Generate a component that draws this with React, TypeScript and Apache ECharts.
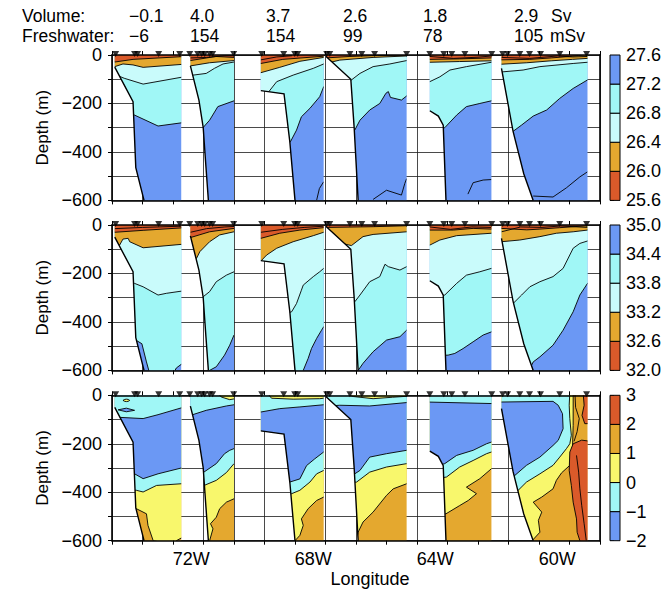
import React, { useEffect, useRef } from 'react';
import * as echarts from 'echarts';

type Pt = [number, number];
type Line = Pt[];
type Patch = { color: number; pts: Line };

const FONT = '"Liberation Sans", Arial, Helvetica, sans-serif';

// contour fill colours
const palette = ['#da5a2a', '#e4a82f', '#c9fbfb', '#a0f7f6', '#6b98f4', '#f8f76c'];
const DO = 0, OR = 1, LC = 2, CY = 3, BL = 4, YE = 5;

const lonTicks = [-72, -68, -64, -60];
const lonRange: Pt = [-74.6, -58.6];
const depthRange: Pt = [-600, 0];

const volumeSv = ['\u22120.1', '4.0', '3.7', '2.6', '1.8', '2.9'];
const freshwaterMSv = ['\u22126', '154', '154', '99', '78', '105'];

const stationLons = [
  -74.48, -73.86, -73.76, -73.07, -72.38, -72.05, -71.79, -71.66, -71.56, -71.4, -71.3, -70.61,
  -69.69, -68.97, -68.61, -68.51, -67.56, -67.46, -66.8, -66.41, -65.99, -64.94, -64.18, -63.72,
  -63.46, -63.03, -62.15, -61.79, -61.63, -61.23, -60.91, -60.55, -59.92, -59.04,
];

// west / east end of each section
const sectionEdges: Pt[] = [
  [-74.51, -72.33], [-72.03, -70.6], [-69.72, -67.66], [-67.59, -64.94], [-64.18, -62.16], [-61.83, -59.01],
];

// sea floor along each section (lon, depth)
const seafloorA: Line = [[-74.51, -50], [-73.91, -193], [-73.82, -465], [-73.55, -600]];
const seafloorB: Line = [[-72.03, -45], [-71.75, -186], [-71.61, -299], [-71.52, -461], [-71.44, -600]];
const seafloorC: Line = [[-69.72, -147], [-68.96, -160], [-68.77, -358], [-68.6, -600]];
const seafloorD: Line = [[-67.59, -5], [-66.77, -100], [-66.66, -300], [-66.53, -600]];
const seafloorE: Line = [[-64.18, -230], [-63.9, -252], [-63.74, -290], [-63.65, -600]];
const seafloorF: Line = [[-61.83, -55], [-61.45, -315], [-61.1, -490], [-60.79, -600]];
const seafloors = [seafloorA, seafloorB, seafloorC, seafloorD, seafloorE, seafloorF];

// ---- potential density (sigma-theta): isopycnals 26.0, 26.4, 26.8, 27.2 top to bottom
const sigmaTicks = ['25.6', '26.0', '26.4', '26.8', '27.2', '27.6'];
const sigmaScale = [DO, OR, LC, CY, BL];
const sigmaA: Line[] = [
  [[-74.51, -29], [-73.91, -18], [-72.33, -7]],
  [[-74.51, -48], [-74.24, -37], [-73.91, -41], [-73.58, -51], [-72.33, -39]],
  [[-74.51, -80], [-74.2, -96], [-73.58, -120], [-72.33, -92]],
  [[-74.51, -240], [-73.86, -248], [-73.09, -293], [-72.33, -280]],
];
const sigmaB: Line[] = [
  [[-72.03, -23], [-71.2, -6], [-70.6, -10]],
  [[-72.03, -45], [-71.4, -32], [-70.6, -23]],
  [[-72.03, -90], [-71.94, -83], [-71.51, -76], [-71.24, -55], [-70.96, -37], [-70.6, -29]],
  [[-72.03, -310], [-71.61, -299], [-71.4, -269], [-71.13, -213], [-70.6, -189]],
];
const sigmaC: Line[] = [
  [[-69.72, -35], [-69.0, -18], [-67.66, -5]],
  [[-69.72, -73], [-69.1, -51], [-68.44, -26], [-67.66, -10]],
  [[-69.72, -170], [-69.45, -150], [-69.2, -110], [-68.66, -83], [-68.0, -55], [-67.66, -37]],
  [[-69.72, -400], [-68.75, -358], [-68.55, -310], [-68.39, -255], [-68.11, -220], [-67.79, -172], [-67.66, -131]],
];
const sigmaD: Line[] = [
  [[-67.59, -12], [-66.8, -6], [-65.9, -2], [-64.94, -1]],
  [[-67.59, -35], [-67.13, -21], [-66.04, -10], [-64.94, -4]],
  [[-67.59, -140], [-66.75, -103], [-66.47, -76], [-66.04, -48], [-65.49, -37], [-64.94, -23]],
  [[-67.59, -330], [-66.64, -310], [-66.47, -269], [-66.15, -227], [-65.82, -200], [-65.62, -158], [-65.54, -151], [-65.47, -175], [-65.11, -186], [-64.94, -169]],
];
const sigmaE: Line[] = [
  [[-64.18, -18], [-63.2, -16], [-62.16, -12]],
  [[-64.18, -30], [-63.2, -27], [-62.16, -24]],
  [[-64.18, -110], [-63.85, -90], [-63.52, -62], [-62.98, -48], [-62.16, -30]],
  [[-64.18, -320], [-63.69, -300], [-63.3, -248], [-62.98, -213], [-62.54, -200], [-62.16, -189]],
];
const sigmaF: Line[] = [
  [[-61.83, -20], [-60.9, -18], [-60.2, -12], [-59.6, -6], [-59.3, -2], [-59.01, 2]],
  [[-61.83, -38], [-61.0, -32], [-60.2, -24], [-59.5, -18], [-59.01, -14]],
  [[-61.83, -70], [-61.12, -62], [-60.57, -48], [-59.48, -35], [-59.01, -30]],
  [[-61.83, -340], [-61.47, -317], [-61.17, -289], [-60.79, -252], [-60.35, -227], [-59.92, -179], [-59.48, -138], [-59.01, -103]],
];
const sigmaExtras: Line[][] = [
  [],
  [[[-72.03, -12], [-71.5, -10], [-70.9, -3], [-70.6, -3]]],
  [[[-69.72, -20], [-69.2, -8], [-68.7, -3]], [[-67.89, -599], [-67.8, -551], [-67.66, -523]]],
  [[[-66.04, -596], [-65.6, -558], [-65.11, -578], [-65.0, -530], [-64.94, -510]]],
  [[[-64.18, -6], [-63.4, -14], [-62.6, -9], [-62.16, -4]], [[-62.93, -574], [-62.76, -527], [-62.43, -516], [-62.16, -514]]],
  [[[-61.83, -10], [-60.9, -14], [-60.0, -4], [-59.5, -8], [-59.01, -6]], [[-60.79, -582], [-60.14, -586], [-59.7, -548], [-59.26, -503], [-59.01, -482]]],
];

// ---- salinity: isohalines 32.6, 33.2, 33.8, 34.4 top to bottom
const salinityTicks = ['32.0', '32.6', '33.2', '33.8', '34.4', '35.0'];
const salinityScale = [DO, OR, LC, CY, BL];
const salA: Line[] = [
  [[-74.51, -30], [-73.58, -22], [-72.33, -12]],
  [[-74.51, -85], [-74.35, -83], [-74.24, -58], [-74.07, -55], [-74.02, -69], [-73.58, -94], [-72.33, -80]],
  [[-74.51, -230], [-73.86, -241], [-73.58, -255], [-73.09, -289], [-72.82, -282], [-72.33, -273]],
  [[-74.51, -470], [-73.82, -475], [-73.62, -490], [-73.47, -565], [-73.36, -615], [-72.6, -615], [-72.49, -590], [-72.33, -575]],
];
const salB: Line[] = [
  [[-72.03, -52], [-71.4, -28], [-70.6, -14]],
  [[-72.03, -150], [-71.83, -138], [-71.72, -110], [-71.4, -69], [-71.07, -41], [-70.6, -28]],
  [[-72.03, -320], [-71.61, -296], [-71.4, -275], [-71.18, -234], [-70.85, -207], [-70.6, -193]],
  [[-72.03, -620], [-71.4, -600], [-71.18, -585], [-70.91, -537], [-70.74, -496], [-70.6, -454]],
];
const salC: Line[] = [
  [[-69.72, -55], [-69.1, -34], [-68.44, -21], [-67.66, -11]],
  [[-69.72, -149], [-69.53, -124], [-69.2, -96], [-68.66, -69], [-68.0, -44], [-67.66, -30]],
  [[-69.72, -400], [-68.71, -358], [-68.55, -324], [-68.39, -269], [-68.33, -248], [-68.0, -213], [-67.79, -193], [-67.66, -179]],
  [[-69.72, -620], [-68.4, -620], [-68.33, -600], [-68.17, -551], [-68.06, -510], [-67.89, -468], [-67.73, -434], [-67.66, -420]],
];
const salD: Line[] = [
  [[-67.59, -10], [-66.04, -7], [-64.94, -3]],
  [[-67.59, -60], [-66.75, -85], [-66.37, -48], [-66.04, -39], [-64.94, -28]],
  [[-67.59, -340], [-66.64, -317], [-66.47, -289], [-66.15, -234], [-65.82, -213], [-65.65, -162], [-65.54, -172], [-65.16, -186], [-64.94, -172]],
  [[-67.59, -620], [-66.53, -600], [-66.37, -571], [-66.04, -523], [-65.6, -475], [-65.16, -461], [-64.94, -434]],
];
const salE: Line[] = [
  [[-64.18, -21], [-63.41, -21], [-62.76, -14], [-62.16, -17]],
  [[-64.18, -83], [-63.85, -62], [-63.3, -44], [-62.16, -34]],
  [[-64.18, -300], [-63.69, -289], [-63.3, -241], [-62.98, -207], [-62.54, -193], [-62.16, -179]],
  [[-64.18, -540], [-63.58, -537], [-63.36, -530], [-63.09, -510], [-62.76, -482], [-62.43, -454], [-62.16, -441]],
];
const salF: Line[] = [
  [[-61.83, -14], [-61.0, -20], [-60.57, -17], [-59.92, -11], [-59.01, -3]],
  [[-61.83, -69], [-61.23, -62], [-60.57, -48], [-60.03, -34], [-59.48, -28], [-59.01, -21]],
  [[-61.83, -340], [-61.45, -324], [-61.17, -289], [-60.9, -255], [-60.57, -234], [-60.14, -213], [-59.81, -179], [-59.48, -96], [-59.26, -76], [-59.01, -66]],
  [[-61.0, -620], [-60.79, -565], [-60.57, -544], [-60.14, -496], [-59.81, -434], [-59.48, -358], [-59.26, -289], [-59.01, -241]],
];
const salExtras: Line[][] = [
  [[[-74.51, -15], [-73.6, -10], [-72.33, -5]]],
  [[[-72.03, -30], [-71.5, -15], [-70.9, -8], [-70.6, -6]]],
  [[[-69.72, -30], [-69.0, -18], [-68.3, -10], [-67.66, -5]]],
  [],
  [[[-64.18, -8], [-63.5, -18], [-62.8, -8], [-62.16, -10]]],
  [[[-61.83, -28], [-61.2, -8], [-60.5, -10], [-59.9, -4], [-59.01, -10]]],
];

// ---- potential temperature
const tempTicks = ['\u22122', '\u22121', '0', '1', '2', '3'];
const tempScale = [BL, CY, YE, OR, DO];
const tempColorsPlain = [CY, BL, CY, YE, OR];
const tempColorsWarmTop = [YE, CY, BL, CY, YE, OR];
const tempColorsF = [CY, YE, OR];
const tempA: Line[] = [
  [[-74.51, -90], [-73.58, -96], [-73.09, -80], [-72.33, -52]],
  [[-74.51, -310], [-73.86, -324], [-73.58, -344], [-73.09, -324], [-72.33, -300]],
  [[-74.51, -390], [-73.8, -392], [-73.58, -399], [-73.14, -372], [-72.33, -365]],
  [[-74.51, -465], [-73.8, -468], [-73.47, -489], [-73.42, -537], [-73.25, -600], [-72.6, -615], [-72.49, -600], [-72.33, -589]],
];
const tempB: Line[] = [
  [[-72.03, 5], [-71.1, 5], [-71.02, -7], [-70.74, -18], [-70.6, -15]],
  [[-72.03, -83], [-71.51, -62], [-70.85, -44], [-70.6, -39]],
  [[-72.03, -330], [-71.61, -319], [-71.18, -282], [-70.91, -241], [-70.74, -227], [-70.6, -220]],
  [[-72.03, -380], [-71.58, -372], [-71.18, -351], [-70.85, -319], [-70.6, -282]],
  [[-72.03, -620], [-71.45, -620], [-71.4, -600], [-71.29, -551], [-71.37, -530], [-71.18, -503], [-71.07, -468], [-70.85, -441], [-70.6, -427]],
];
const tempC: Line[] = [
  [[-69.72, 5], [-69.48, 5], [-69.37, -12], [-68.66, -16], [-67.79, -14], [-67.66, -12]],
  [[-69.72, -69], [-69.1, -55], [-68.44, -48], [-67.66, -39]],
  [[-69.72, -400], [-68.77, -358], [-68.44, -345], [-68.22, -290], [-67.95, -262], [-67.66, -234]],
  [[-69.72, -420], [-68.71, -406], [-68.44, -392], [-68.11, -358], [-67.89, -324], [-67.66, -310]],
  [[-69.72, -620], [-68.65, -620], [-68.6, -600], [-68.44, -578], [-68.33, -537], [-68.39, -510], [-68.17, -468], [-67.89, -434], [-67.66, -420]],
];
const tempD: Line[] = [
  [[-67.59, 5], [-66.91, 5], [-66.69, -5], [-66.04, -14], [-65.4, -8], [-64.94, -4]],
  [[-67.59, -45], [-67.13, -41], [-66.15, -44], [-64.94, -30]],
  [[-67.59, -340], [-66.64, -324], [-66.47, -310], [-66.15, -255], [-65.6, -241], [-64.94, -227]],
  [[-67.59, -370], [-66.58, -358], [-66.15, -317], [-65.6, -296], [-64.94, -282]],
  [[-67.59, -620], [-66.6, -610], [-66.53, -565], [-66.37, -523], [-66.04, -482], [-65.6, -413], [-65.38, -386], [-64.94, -365]],
];
const tempE: Line[] = [
  [[-64.18, -28], [-62.16, -34]],
  [[-64.18, -300], [-63.69, -282], [-63.3, -248], [-62.76, -227], [-62.32, -200], [-62.16, -193]],
  [[-64.18, -350], [-63.63, -337], [-63.2, -296], [-62.76, -269], [-62.32, -241], [-62.16, -234]],
  [[-64.18, -500], [-63.65, -489], [-63.2, -455], [-62.92, -434], [-62.65, -406], [-62.98, -379], [-62.54, -344], [-62.16, -303]],
];
const tempF: Line[] = [
  [[-61.83, -413], [-61.45, -413], [-61.01, -358], [-60.57, -324], [-60.14, -289], [-59.92, -255], [-59.7, -220], [-59.59, -200], [-59.54, -165], [-59.59, -96], [-59.61, -41], [-59.59, 10]],
  [[-61.83, -620], [-60.85, -620], [-60.79, -595], [-60.57, -565], [-60.62, -516], [-60.51, -482], [-60.79, -441], [-60.51, -420], [-60.14, -386], [-60.03, -351], [-59.86, -320], [-59.59, -289], [-59.54, -248], [-59.5, -207], [-59.48, -124], [-59.48, 10]],
];
const tempPatchesA: Patch[] = [
  { color: BL, pts: [[-74.4, -60], [-74.13, -53], [-73.86, -62], [-74.13, -68]] },
  { color: YE, pts: [[-74.24, -21], [-74.18, -17], [-74.13, -16], [-74.07, -17], [-74.02, -21], [-74.07, -25], [-74.13, -26], [-74.18, -25]] },
];
const tempPatchesF: Patch[] = [
  { color: BL, pts: [[-62.0, -28], [-60.14, -25], [-59.97, -41], [-59.83, -76], [-59.81, -138], [-59.97, -186], [-60.14, -207], [-60.57, -255], [-61.01, -289], [-61.45, -337], [-62.0, -400]] },
  { color: DO, pts: [[-59.15, 5], [-59.12, -41], [-59.19, -83], [-59.1, -117], [-58.9, -117], [-58.9, 5]] },
  { color: DO, pts: [[-59.48, -200], [-59.59, -234], [-59.61, -310], [-59.54, -372], [-59.48, -441], [-59.37, -510], [-59.35, -565], [-59.26, -600], [-59.2, -620], [-58.9, -620], [-58.9, -190], [-59.2, -185]] },
];
const tempExtrasF: Line[] = [
  [[-59.37, -248], [-59.3, -317], [-59.26, -386], [-59.2, -454], [-59.12, -530], [-59.05, -600]],
  [[-59.42, 5], [-59.4, -50], [-59.28, -96], [-59.35, -150], [-59.45, -190]],
];

type Field = { lines: Line[]; colors: number[]; patches: Patch[]; extras: Line[] };

const panels: { fields: Field[]; ticks: string[]; scale: number[] }[] = [
  {
    fields: [sigmaA, sigmaB, sigmaC, sigmaD, sigmaE, sigmaF].map((lines, i) => ({ lines, colors: sigmaScale, patches: [], extras: sigmaExtras[i] })),
    ticks: sigmaTicks,
    scale: sigmaScale,
  },
  {
    fields: [salA, salB, salC, salD, salE, salF].map((lines, i) => ({ lines, colors: salinityScale, patches: [], extras: salExtras[i] })),
    ticks: salinityTicks,
    scale: salinityScale,
  },
  {
    fields: [
      { lines: tempA, colors: tempColorsPlain, patches: tempPatchesA, extras: [] },
      { lines: tempB, colors: tempColorsWarmTop, patches: [], extras: [] },
      { lines: tempC, colors: tempColorsWarmTop, patches: [], extras: [] },
      { lines: tempD, colors: tempColorsWarmTop, patches: [], extras: [] },
      { lines: tempE, colors: tempColorsPlain, patches: [], extras: [] },
      { lines: tempF, colors: tempColorsF, patches: tempPatchesF, extras: tempExtrasF },
    ],
    ticks: tempTicks,
    scale: tempScale,
  },
];

// layout
const PANEL_TOPS = [55, 225, 395.3];
const PANEL_H = 145.4;
const PLOT_LEFT = 112;
const PLOT_W = 488;

const textStyle = { color: '#000', fontFamily: FONT };

function sectionSeries(panel: number, sec: number, field: Field) {
  const [xL, xR] = sectionEdges[sec];
  const floor = seafloors[sec];
  const outline: Line = [[xL, 0], [xR, 0], [xR, depthRange[0]], ...floor.slice().reverse()];
  const { lines, colors, patches, extras } = field;
  return {
    type: 'custom',
    xAxisIndex: panel * 4 + 3,
    yAxisIndex: panel * 3,
    data: [[xL, xR]],
    silent: true,
    z: 2,
    renderItem: (_params: any, api: any) => {
      const toPx = (pts: Line) => pts.map((q) => api.coord(q));
      const water = toPx(outline);
      const clip = () => ({ type: 'polygon', shape: { points: water } });
      const kids: any[] = [
        { type: 'polygon', shape: { points: water }, style: { fill: palette[colors[colors.length - 1]], stroke: 'none', lineWidth: 0 } },
      ];
      // paint each layer as the region lying above its lower contour, deepest first
      for (let i = lines.length - 1; i >= 0; i--) {
        const ln = lines[i];
        const a = ln[0];
        const b = ln[ln.length - 1];
        const region: Line = [[a[0] - 1, 300], [a[0] - 1, a[1]], ...ln, [b[0] + 1, b[1]], [b[0] + 1, 300]];
        kids.push({
          type: 'polygon',
          shape: { points: toPx(region) },
          style: { fill: palette[colors[i]], stroke: '#000', lineWidth: 0.9 },
          clipPath: clip(),
        });
      }
      patches.forEach((p) => {
        kids.push({
          type: 'polygon',
          shape: { points: toPx(p.pts) },
          style: { fill: palette[p.color], stroke: '#000', lineWidth: 0.9 },
          clipPath: clip(),
        });
      });
      extras.forEach((ln) => {
        kids.push({
          type: 'polyline',
          shape: { points: toPx(ln) },
          style: { fill: 'none', stroke: '#000', lineWidth: 0.9 },
          clipPath: clip(),
        });
      });
      kids.push({
        type: 'polyline',
        shape: { points: toPx(floor) },
        style: { fill: 'none', stroke: '#000', lineWidth: 1.4 },
      });
      return { type: 'group', children: kids };
    },
  };
}

function depthLabel(v: number) {
  if (v % 200 !== 0) return '';
  return v === 0 ? '0' : '\u2212' + Math.abs(v);
}

function buildOption() {
  const grid: any[] = [];
  const xAxis: any[] = [];
  const yAxis: any[] = [];
  const series: any[] = [];

  PANEL_TOPS.forEach((top) => grid.push({ left: PLOT_LEFT, top, width: PLOT_W, height: PANEL_H }));
  PANEL_TOPS.forEach((top) => grid.push({ left: 610, top, width: 10, height: PANEL_H }));

  const frameLine = { show: true, onZero: false, lineStyle: { color: '#000', width: 1.6 } };
  const gridLine = { show: true, lineStyle: { color: '#1c1c1c', width: 0.8 } };

  for (let p = 0; p < 3; p++) {
    // x: grid lines, bottom frame, top frame, longitude (data)
    xAxis.push({ gridIndex: p, type: 'value', min: 0, max: 16, interval: 1, axisLine: { show: false, onZero: false }, axisTick: { show: false }, axisLabel: { show: false }, splitLine: gridLine, z: 0 });
    xAxis.push({ gridIndex: p, type: 'value', position: 'bottom', min: 0, max: 16, interval: 1, axisLine: frameLine, axisTick: { show: true, length: 4, lineStyle: { color: '#000', width: 1 } }, axisLabel: { show: false }, splitLine: { show: false }, z: 4 });
    xAxis.push({ gridIndex: p, type: 'value', position: 'top', min: 0, max: 16, interval: 1, axisLine: frameLine, axisTick: { show: true, length: 4, lineStyle: { color: '#000', width: 1 } }, axisLabel: { show: false }, splitLine: { show: false }, z: 4 });
    xAxis.push({
      gridIndex: p,
      type: 'value',
      position: 'bottom',
      min: lonRange[0],
      max: lonRange[1],
      axisLine: { show: false, onZero: false },
      axisTick: { show: false },
      splitLine: { show: false },
      axisLabel: p === 2
        ? { show: true, customValues: lonTicks, formatter: (v: number) => `${-v}W`, margin: 9, fontSize: 18, ...textStyle }
        : { show: false },
      name: p === 2 ? 'Longitude' : '',
      nameLocation: 'middle',
      nameGap: 29,
      nameTextStyle: { fontSize: 18, padding: [0, 0, 0, 28], ...textStyle },
      z: 4,
    });

    // y: grid lines, left frame with labels, right frame
    yAxis.push({ gridIndex: p, type: 'value', min: depthRange[0], max: depthRange[1], interval: 100, axisLine: { show: false, onZero: false }, axisTick: { show: false }, axisLabel: { show: false }, splitLine: gridLine, z: 0 });
    yAxis.push({
      gridIndex: p,
      type: 'value',
      position: 'left',
      min: depthRange[0],
      max: depthRange[1],
      interval: 100,
      axisLine: frameLine,
      axisTick: { show: true, length: 4, lineStyle: { color: '#000', width: 1 } },
      axisLabel: { show: true, formatter: depthLabel, margin: 10, fontSize: 18, ...textStyle },
      splitLine: { show: false },
      name: 'Depth (m)',
      nameLocation: 'middle',
      nameRotate: 90,
      nameGap: 58,
      nameTextStyle: { fontSize: 17, ...textStyle },
      z: 4,
    });
    yAxis.push({ gridIndex: p, type: 'value', position: 'right', min: depthRange[0], max: depthRange[1], interval: 100, axisLine: frameLine, axisTick: { show: false }, axisLabel: { show: false }, splitLine: { show: false }, z: 4 });

    panels[p].fields.forEach((field, sec) => series.push(sectionSeries(p, sec, field)));

    series.push({
      type: 'scatter',
      xAxisIndex: p * 4 + 3,
      yAxisIndex: p * 3,
      data: stationLons.map((lon) => [lon, 0]),
      symbol: 'triangle',
      symbolRotate: 180,
      symbolSize: [7, 6],
      symbolOffset: [0, -1],
      itemStyle: { color: '#000' },
      clip: false,
      silent: true,
      z: 6,
    });
  }

  // colour bars
  for (let p = 0; p < 3; p++) {
    const ticks = panels[p].ticks;
    xAxis.push({ gridIndex: 3 + p, type: 'value', min: 0, max: 1, show: false });
    yAxis.push({
      gridIndex: 3 + p,
      type: 'value',
      position: 'right',
      min: 0,
      max: 5,
      interval: 1,
      axisLine: { show: false },
      axisTick: { show: true, length: 4, lineStyle: { color: '#000', width: 1 } },
      axisLabel: { show: true, margin: 6, formatter: (v: number) => ticks[v], fontSize: 18, ...textStyle },
      splitLine: { show: false },
    });
    series.push({
      type: 'custom',
      xAxisIndex: 12 + p,
      yAxisIndex: 9 + p,
      silent: true,
      data: panels[p].scale.map((c, i) => [i, c]),
      renderItem: (_params: any, api: any) => {
        const i = api.value(0);
        const c = api.value(1);
        const a = api.coord([0, i]);
        const b = api.coord([1, i + 1]);
        return {
          type: 'rect',
          shape: { x: a[0], y: b[1], width: b[0] - a[0], height: a[1] - b[1] },
          style: { fill: palette[c], stroke: '#000', lineWidth: 1 },
        };
      },
    });
  }

  // transport header
  const headerCols = [129, 190, 266, 343, 423, 514];
  const ROW1 = 7;
  const ROW2 = 27;
  const txt = (text: string, left: number, top: number) => ({
    type: 'text',
    left,
    top,
    style: { text, fill: '#000', font: `17.5px ${FONT}`, lineHeight: 18 },
  });
  const graphic: any[] = [txt('Volume:', 22, ROW1), txt('Freshwater:', 22, ROW2)];
  volumeSv.forEach((v, i) => graphic.push(txt(v, headerCols[i], ROW1)));
  freshwaterMSv.forEach((v, i) => graphic.push(txt(v, headerCols[i], ROW2)));
  graphic.push(txt('Sv', 551, ROW1));
  graphic.push(txt('mSv', 550, ROW2));

  return {
    animation: false,
    backgroundColor: '#fff',
    grid,
    xAxis,
    yAxis,
    series,
    graphic,
  };
}

export default function App() {
  const ref = useRef<HTMLDivElement>(null);
  useEffect(() => {
    if (!ref.current) return;
    const chart = echarts.init(ref.current, null, { renderer: 'svg' });
    chart.setOption(buildOption() as any);
    return () => chart.dispose();
  }, []);
  return <div ref={ref} style={{ position: 'absolute', left: 0, top: 0, width: 667, height: 589 }} />;
}
